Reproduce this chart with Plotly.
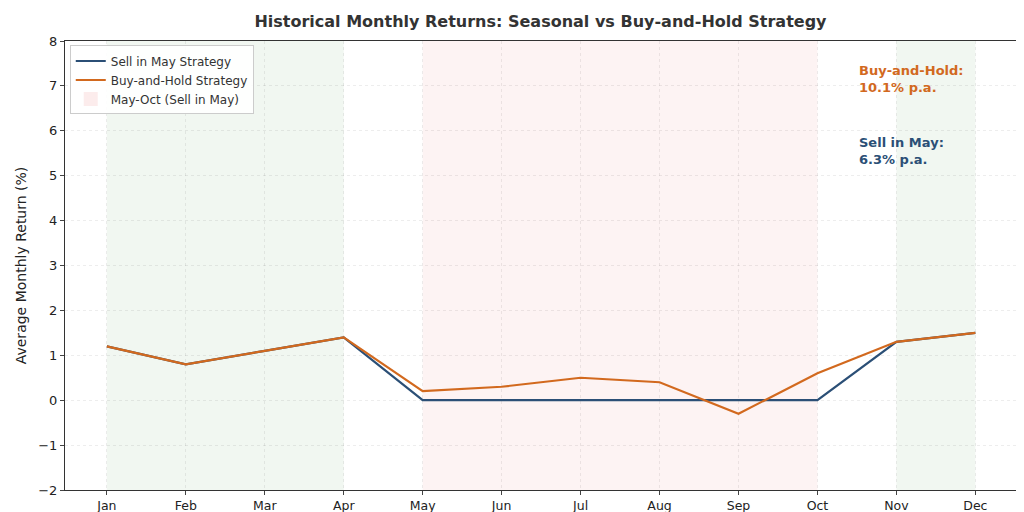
import plotly.graph_objects as go

months = ["Jan","Feb","Mar","Apr","May","Jun","Jul","Aug","Sep","Oct","Nov","Dec"]
sell_in_may = [1.2,0.8,1.1,1.4,0,0,0,0,0,0,1.3,1.5]
buy_hold = [1.2,0.8,1.1,1.4,0.2,0.3,0.5,0.4,-0.3,0.6,1.3,1.5]
xi = list(range(12))

BLUE = "#2b4f76"
ORANGE = "#d2691e"

fig = go.Figure()
for x0, x1, c in [(0,3,"rgba(120,180,120,0.10)"),(10,11,"rgba(120,180,120,0.10)")]:
    fig.add_vrect(x0=x0, x1=x1, fillcolor=c, line_width=0, layer="below")
fig.add_vrect(x0=4, x1=9, fillcolor="rgba(240,160,160,0.13)", line_width=0, layer="below")

fig.add_trace(go.Scatter(x=xi, y=sell_in_may, mode="lines", name="Sell in May Strategy",
                         line=dict(color=BLUE, width=2.2)))
fig.add_trace(go.Scatter(x=xi, y=buy_hold, mode="lines", name="Buy-and-Hold Strategy",
                         line=dict(color=ORANGE, width=2.2)))
fig.add_trace(go.Scatter(x=[None], y=[None], mode="markers", name="May-Oct (Sell in May)",
                         marker=dict(symbol="square", size=14, color="rgba(240,160,160,0.2)")))

fig.add_annotation(x=9.5, y=7.55, text="<b>Buy-and-Hold:<br>10.1% p.a.</b>", showarrow=False,
                   xanchor="left", yanchor="top", align="left", font=dict(color=ORANGE, size=13))
fig.add_annotation(x=9.5, y=5.95, text="<b>Sell in May:<br>6.3% p.a.</b>", showarrow=False,
                   xanchor="left", yanchor="top", align="left", font=dict(color=BLUE, size=13))

fig.update_layout(
    width=1024, height=512, template="plotly_white",
    font=dict(family="DejaVu Sans", size=12, color="#222"),
    title=dict(text="<b>Historical Monthly Returns: Seasonal vs Buy-and-Hold Strategy</b>",
               x=0.52, xanchor="center", y=0.985, yanchor="top", font=dict(size=16, color="#333"),
               automargin=False),
    margin=dict(l=57, r=14, t=33, b=30),
    plot_bgcolor="white",
    legend=dict(x=0.005, y=0.99, xanchor="left", yanchor="top", bgcolor="rgba(255,255,255,0.9)",
                bordercolor="#ccc", borderwidth=1, font=dict(size=12, color="#333")),
    xaxis=dict(tickmode="array", tickvals=xi, ticktext=months, range=[-0.53, 11.54],
               showgrid=True, gridcolor="rgba(0,0,0,0.07)", griddash="dot", zeroline=False,
               showline=True, linecolor="#333", mirror=True, ticks="outside", ticklen=4,
               automargin=False, tickfont=dict(size=12.5)),
    yaxis=dict(title=dict(text="Average Monthly Return (%)", standoff=8), range=[-2, 8], dtick=1,
               showgrid=True, gridcolor="rgba(0,0,0,0.07)", griddash="dot", zeroline=False,
               showline=True, linecolor="#333", mirror=True, ticks="outside", ticklen=4,
               tickfont=dict(size=13), automargin=False),
)
fig.write_html("out.html")
